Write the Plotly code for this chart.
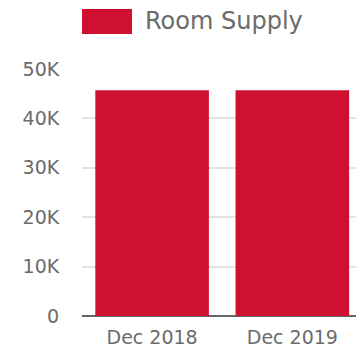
import plotly.graph_objects as go

categories = ["Dec 2018", "Dec 2019"]
room_supply = [45700, 45700]
series_name = "Room Supply"
y_tickvals = [0, 10000, 20000, 30000, 40000, 50000]
y_ticktext = ["0", "10K", "20K", "30K", "40K", "50K"]

RED = "#CE1131"
TXT = "#6b6b6b"
FONT = "DejaVu Sans"

fig = go.Figure()
fig.add_trace(go.Bar(x=[0, 1], y=room_supply, name=series_name,
                     marker=dict(color=RED, line=dict(width=0)), showlegend=False,
                     hoverinfo="skip"))

fig.update_layout(
    width=356, height=354,
    margin=dict(l=82, r=0, t=69, b=38, autoexpand=False),
    paper_bgcolor="white", plot_bgcolor="white",
    bargap=0.19,
    font=dict(family=FONT, color=TXT, size=19),
    xaxis=dict(range=[-0.5, 1.454], tickvals=[0, 1], ticktext=categories,
               showgrid=False, zeroline=False, showline=False, automargin=False,
               ticks="outside", ticklen=4, tickcolor="rgba(0,0,0,0)",
               tickfont=dict(size=19, color=TXT), fixedrange=True),
    yaxis=dict(range=[0, 50000], tickvals=y_tickvals, ticktext=y_ticktext,
               showgrid=True, gridcolor="#e3e3e3", gridwidth=2, automargin=False,
               zeroline=True, zerolinecolor="#666666", zerolinewidth=2,
               showline=False, ticks="outside", ticklen=18, tickcolor="rgba(0,0,0,0)",
               tickfont=dict(size=19, color=TXT), fixedrange=True),
    shapes=[dict(type="rect", xref="paper", yref="paper",
                 x0=0, x1=50/274, y0=1+35/247, y1=1+60/247,
                 fillcolor=RED, line=dict(width=0))],
    annotations=[dict(text=series_name, xref="paper", yref="paper",
                      x=61/274, y=1+48/247, xanchor="left", yanchor="middle",
                      showarrow=False, font=dict(family=FONT, size=24, color=TXT))],
)

fig.write_html("out.html", config={"displayModeBar": False},
               post_script="document.body.style.margin='0';")
